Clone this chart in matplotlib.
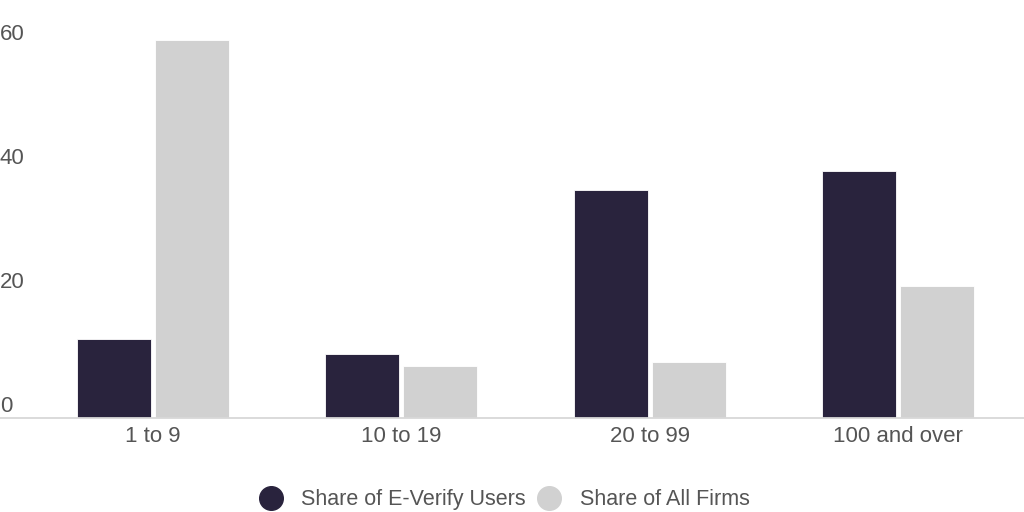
import numpy as np
import matplotlib
matplotlib.use('Agg')
import matplotlib.pyplot as plt
from matplotlib.lines import Line2D

categories = ['1 to 9', '10 to 19', '20 to 99', '100 and over']
everify_users = [12.6, 10.2, 36.5, 39.5]
all_firms = [60.5, 8.3, 9.0, 21.1]
series_names = ['Share of E-Verify Users', 'Share of All Firms']
yticks = [0, 20, 40, 60]

dark = '#29233d'
light = '#d1d1d1'
txt = '#555555'

plt.rcParams['font.family'] = ['Liberation Sans', 'DejaVu Sans']

fig = plt.figure(figsize=(10.24, 5.12), dpi=100)
# plot area: x 29..1022 px, bottom at 418 px, 400 px tall
ax = fig.add_axes([29/1024, 1 - 418/512, 993/1024, 400/512])

x = np.arange(len(categories))
w = 0.298
ax.bar(x - 0.157, everify_users, w, color=dark, edgecolor='white', linewidth=0.6)
ax.bar(x + 0.157, all_firms, w, color=light, edgecolor='white', linewidth=0.6)

ax.set_xlim(-0.5, 3.5)
ax.set_ylim(0, 64)
for s in ax.spines.values():
    s.set_visible(False)
ax.set_yticks([])
ax.set_xticks(x)
ax.set_xticklabels(categories, fontsize=16, color=txt)
ax.tick_params(axis='x', length=0, pad=6)

# baseline runs across the full width
fig.add_artist(Line2D([0, 1], [1 - 418/512, 1 - 418/512], transform=fig.transFigure,
                      color='#d8d8d8', linewidth=1.3))

# y labels sit above their value lines, flush left
for v in yticks:
    ypix = 418 - v * 372 / 60 - 11
    fig.text(0.0, 1 - ypix/512, str(v), fontsize=16, color=txt,
             ha='left', va='center')

handles = [Line2D([], [], marker='o', linestyle='none', markersize=17,
                  markerfacecolor=c, markeredgecolor=c) for c in (dark, light)]
fig.legend(handles, series_names, loc='center', bbox_to_anchor=(0.493, 0.024),
           ncol=2, frameon=False, fontsize=15.5, labelcolor=txt,
           handletextpad=0.9, columnspacing=0.6, handlelength=1.0)

fig.savefig('out.png', dpi=100)
